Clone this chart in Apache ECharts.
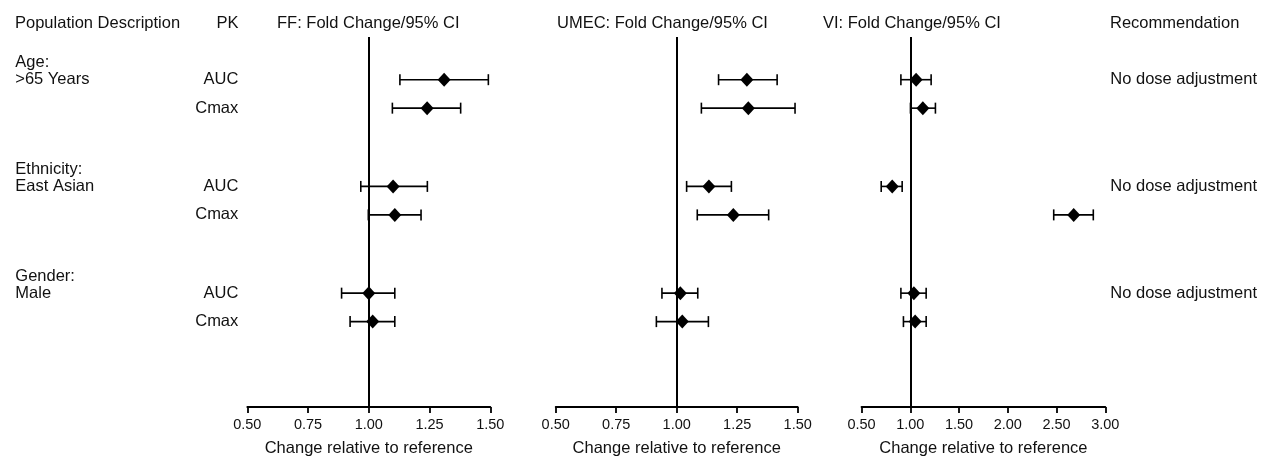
<!DOCTYPE html>
<html>
<head>
<meta charset="utf-8">
<script src="https://cdn.jsdelivr.net/npm/echarts@6/dist/echarts.min.js"></script>
<style>
html,body{margin:0;padding:0;background:#fff;}
#chart{width:1262px;height:461px;}
</style>
</head>
<body>
<div id="chart"></div>
<script>
// ---------- data ----------
const groupLabels = ['Age:', 'Ethnicity:', 'Gender:'];
const subgroupLabels = ['>65 Years', 'East Asian', 'Male'];
const pkParams = ['AUC', 'Cmax'];
const recommendations = ['No dose adjustment', 'No dose adjustment', 'No dose adjustment'];
const panelTitles = ['FF: Fold Change/95% CI', 'UMEC: Fold Change/95% CI', 'VI: Fold Change/95% CI'];
const axisName = 'Change relative to reference';

// order: Age AUC, Age Cmax, Ethnicity AUC, Ethnicity Cmax, Gender AUC, Gender Cmax
const ffEst  = [1.31, 1.24, 1.10, 1.107, 1.00, 1.016];
const ffLo   = [1.128, 1.097, 0.967, 0.998, 0.888, 0.923];
const ffHi   = [1.492, 1.378, 1.241, 1.215, 1.107, 1.107];
const umecEst = [1.29, 1.296, 1.133, 1.234, 1.015, 1.023];
const umecLo  = [1.173, 1.102, 1.041, 1.085, 0.939, 0.916];
const umecHi  = [1.415, 1.489, 1.226, 1.38, 1.087, 1.131];
const viEst  = [1.06, 1.129, 0.815, 2.676, 1.037, 1.05];
const viLo   = [0.904, 1.002, 0.702, 2.471, 0.904, 0.93];
const viHi   = [1.214, 1.258, 0.917, 2.877, 1.163, 1.163];

const ffTicks = [0.5, 1.5, 0.25];
const umecTicks = [0.5, 1.5, 0.25];
const viTicks = [0.5, 3.0, 0.5];

// ---------- layout (rows on a fine category grid) ----------
const SLOTS = 53, FIRST = 6, PAIR = 4, GROUP = 15;
const rows = [];
for (let i = 0; i < SLOTS; i++) rows.push('s' + i);
const rowInfo = {};
const rowOf = [];
groupLabels.forEach((g, gi) => {
  pkParams.forEach((pk, pi) => {
    const idx = FIRST + gi * GROUP + pi * PAIR;
    rowInfo[idx] = {g: gi, pk: pi};
    rowOf.push(rows[idx]);
  });
});

const FONT = "'Liberation Sans', Arial, Helvetica, sans-serif";
const TXT = '#111';

const panels = [
  {est: ffEst, lo: ffLo, hi: ffHi, ticks: ffTicks, left: 247.3, width: 243},
  {est: umecEst, lo: umecLo, hi: umecHi, ticks: umecTicks, left: 555.7, width: 242},
  {est: viEst, lo: viLo, hi: viHi, ticks: viTicks, left: 861.5, width: 243.8}
];

const grid = [], xAxis = [], yAxis = [], series = [];
panels.forEach((p, k) => {
  grid.push({left: p.left, width: p.width, top: 37, height: 370, containLabel: false, outerBoundsMode: 'none'});
  xAxis.push({
    type: 'value', gridIndex: k, min: p.ticks[0], max: p.ticks[1], interval: p.ticks[2],
    axisLine: {show: true, lineStyle: {color: '#000', width: 1.8}},
    axisTick: {show: true, length: 6, lineStyle: {color: '#000', width: 1.8}},
    axisLabel: {formatter: v => v.toFixed(2), color: TXT, fontSize: 14.5, fontFamily: FONT, margin: 10},
    splitLine: {show: false},
    name: axisName, nameLocation: 'middle', nameGap: 33,
    nameTextStyle: {color: TXT, fontSize: 16.5, fontFamily: FONT}
  });
  yAxis.push({
    type: 'category', gridIndex: k, data: rows, inverse: true, boundaryGap: false,
    axisLine: {show: false}, axisTick: {show: false}, splitLine: {show: false},
    axisLabel: {show: false}
  });
});

// extra y axes for table-like label columns
// population description (left column)
yAxis.push({
  type: 'category', gridIndex: 0, data: rows, inverse: true, boundaryGap: false, position: 'left',
  axisLine: {show: false}, axisTick: {show: false}, splitLine: {show: false},
  axisLabel: {
    interval: 0, align: 'left', margin: 232, color: TXT, fontSize: 16.5, fontFamily: FONT,
    lineHeight: 17,
    formatter: (v, i) => {
      const r = rowInfo[i];
      if (!r || r.pk !== 0) return '';
      return groupLabels[r.g] + '\n' + subgroupLabels[r.g] + '\n ';
    }
  }
});
// PK column
yAxis.push({
  type: 'category', gridIndex: 0, data: rows, inverse: true, boundaryGap: false, position: 'left',
  axisLine: {show: false}, axisTick: {show: false}, splitLine: {show: false},
  axisLabel: {
    interval: 0, align: 'right', margin: 9, color: TXT, fontSize: 16.5, fontFamily: FONT,
    formatter: (v, i) => { const r = rowInfo[i]; return r ? pkParams[r.pk] : ''; }
  }
});
// recommendation column
yAxis.push({
  type: 'category', gridIndex: 2, data: rows, inverse: true, boundaryGap: false, position: 'right',
  axisLine: {show: false}, axisTick: {show: false}, splitLine: {show: false},
  axisLabel: {
    interval: 0, align: 'left', margin: 5, color: TXT, fontSize: 16.5, fontFamily: FONT,
    formatter: (v, i) => { const r = rowInfo[i]; return (r && r.pk === 0) ? recommendations[r.g] : ''; }
  }
});

panels.forEach((p, k) => {
  series.push({
    type: 'custom', xAxisIndex: k, yAxisIndex: k,
    data: p.lo.map((lo, i) => [lo, p.hi[i], rowOf[i]]),
    encode: {x: [0, 1], y: 2},
    renderItem: (params, api) => {
      const a = api.coord([api.value(0), api.value(2)]);
      const b = api.coord([api.value(1), api.value(2)]);
      const c = 5.5;
      const st = {stroke: '#000', lineWidth: 1.6};
      return {type: 'group', children: [
        {type: 'line', shape: {x1: a[0], y1: a[1], x2: b[0], y2: b[1]}, style: st},
        {type: 'line', shape: {x1: a[0], y1: a[1] - c, x2: a[0], y2: a[1] + c}, style: st},
        {type: 'line', shape: {x1: b[0], y1: b[1] - c, x2: b[0], y2: b[1] + c}, style: st}
      ]};
    },
    silent: true, z: 3
  });
  series.push({
    type: 'scatter', xAxisIndex: k, yAxisIndex: k,
    data: p.est.map((e, i) => [e, rowOf[i]]),
    symbol: 'diamond', symbolSize: [13, 14],
    itemStyle: {color: '#000', opacity: 1}, silent: true, z: 4,
    markLine: {
      silent: true, symbol: ['none', 'none'], label: {show: false},
      lineStyle: {color: '#000', width: 2, type: 'solid', opacity: 1},
      data: [{xAxis: 1}], z: 2
    }
  });
});

const titleStyle = {color: TXT, fontSize: 16.5, fontWeight: 'normal', fontFamily: FONT};
const title = [
  {text: 'Population Description', left: 15, top: 15, textStyle: titleStyle, padding: 0},
  {text: 'PK', right: 1262 - 238.5, top: 15, textStyle: titleStyle, padding: 0},
  {text: panelTitles[0], left: 277, top: 15, textStyle: titleStyle, padding: 0},
  {text: panelTitles[1], left: 557, top: 15, textStyle: titleStyle, padding: 0},
  {text: panelTitles[2], left: 823, top: 15, textStyle: titleStyle, padding: 0},
  {text: 'Recommendation', left: 1110, top: 15, textStyle: titleStyle, padding: 0}
];

const chart = echarts.init(document.getElementById('chart'), null, {renderer: 'canvas'});
chart.setOption({
  animation: false,
  backgroundColor: '#fff',
  title, grid, xAxis, yAxis, series
});
</script>
</body>
</html>
